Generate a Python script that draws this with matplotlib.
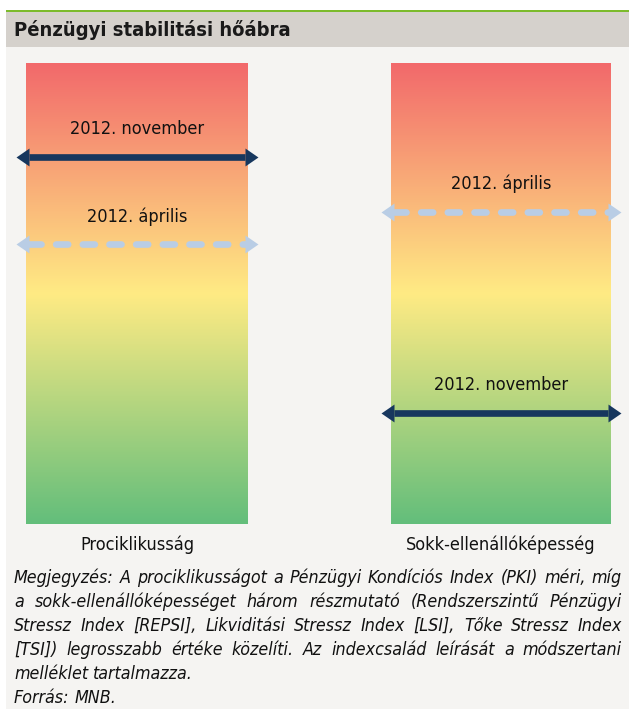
import numpy as np
import matplotlib
matplotlib.use('Agg')
import matplotlib.pyplot as plt
from matplotlib.colors import LinearSegmentedColormap
from matplotlib.patches import Rectangle

# Tahoma-like look: condensed DejaVu if it is there
plt.rcParams['font.family'] = ['DejaVu Sans Condensed', 'DejaVu Sans']
plt.rcParams['font.stretch'] = 'condensed'

# data (0 = bottom of the bar, 100 = top)
bars = ['Prociklikusság', 'Sokk-ellenállóképesség']
april = [60.7, 67.7]
november = [79.6, 24.1]
series_labels = ['2012. április', '2012. november']

title = 'Pénzügyi stabilitási hőábra'
note_lines = [
    'Megjegyzés: A prociklikusságot a Pénzügyi Kondíciós Index (PKI) méri, míg',
    'a sokk-ellenállóképességet három részmutató (Rendszerszintű Pénzügyi',
    'Stressz Index [REPSI], Likviditási Stressz Index [LSI], Tőke Stressz Index',
    '[TSI]) legrosszabb értéke közelíti. Az indexcsalád leírását a módszertani',
    'melléklet tartalmazza.',
    'Forrás: MNB.',
]

W, H = 629, 709
fig = plt.figure(figsize=(W / 100, H / 100), dpi=100)

# background axes in pixel units
bg = fig.add_axes([0, 0, 1, 1])
bg.set_xlim(0, W)
bg.set_ylim(H, 0)
bg.axis('off')
bg.add_patch(Rectangle((6, 47), W - 6, H - 47, color='#f5f4f2', lw=0))
bg.add_patch(Rectangle((6, 12), W - 6, 35, color='#d5d1cc', lw=0))
bg.add_patch(Rectangle((6, 9.5), W - 6, 2.5, color='#7cbb2c', lw=0))
bg.text(14, 30, title, fontsize=14.5, fontweight='bold', va='center', color='#1a1a1a')

cmap = LinearSegmentedColormap.from_list('heat', ['#63BE7B', '#FFEB84', '#F2696B'])
grad = np.linspace(0, 1, 256).reshape(-1, 1)

left_head = [(-1, 0), (0, 0.69), (0, -0.69), (-1, 0)]
right_head = [(1, 0), (0, 0.69), (0, -0.69), (1, 0)]

bar_x = [26, 391]
bar_w = [222, 220]
top, bottom = 63, 524

for i, name in enumerate(bars):
    ax = fig.add_axes([bar_x[i] / W, (H - bottom) / H, bar_w[i] / W, (bottom - top) / H])
    ax.imshow(grad, cmap=cmap, extent=[0, 1, 0, 100], origin='lower', aspect='auto')
    ax.set_xlim(0, 1)
    ax.set_ylim(0, 100)
    ax.axis('off')
    tr = ax.get_yaxis_transform()

    for val, lab, col, dashed in [(april[i], series_labels[0], '#b9cde5', True),
                                  (november[i], series_labels[1], '#17375e', False)]:
        if dashed:
            ax.plot([0.012, 0.988], [val, val], transform=tr, color=col, lw=4.8,
                    ls=(0, (1.8, 2.2)), dash_capstyle='round', clip_on=False)
        else:
            ax.plot([0.012, 0.988], [val, val], transform=tr, color=col, lw=4.8,
                    solid_capstyle='butt', clip_on=False)
        ax.plot([0.012], [val], transform=tr, marker=left_head, ms=18.7, color=col,
                mew=0, clip_on=False)
        ax.plot([0.988], [val], transform=tr, marker=right_head, ms=18.7, color=col,
                mew=0, clip_on=False)
        ax.annotate(lab, xy=(0.5, val), xycoords=tr, xytext=(0, 20),
                    textcoords='offset points', ha='center', va='center',
                    fontsize=13, color='#111111')

    bg.text(bar_x[i] + bar_w[i] / 2, 545, name, ha='center', va='center',
            fontsize=13, color='#111111')

# justified note text, font size shrunk until the longest line fits
renderer = fig.canvas.get_renderer()
x_left, x_right = 14, 622
note_size = 13
while True:
    t = bg.text(0, 0, note_lines[0], fontsize=note_size, style='italic')
    w0 = t.get_window_extent(renderer).width
    t.remove()
    if w0 <= (x_right - x_left) - 8 or note_size < 8:
        break
    note_size -= 0.25

a = bg.text(0, 0, 'x x', fontsize=note_size, style='italic')
b = bg.text(0, 0, 'xx', fontsize=note_size, style='italic')
space = a.get_window_extent(renderer).width - b.get_window_extent(renderer).width
a.remove()
b.remove()
for i, line in enumerate(note_lines):
    y = 578 + i * 24
    words = line.split(' ')
    texts = [bg.text(0, y, w, fontsize=note_size, style='italic', va='center',
                     color='#111111') for w in words]
    widths = [t.get_window_extent(renderer).width for t in texts]
    gap = space
    if i < 4:
        gap = (x_right - x_left - sum(widths)) / (len(words) - 1)
    x = x_left
    for t, w in zip(texts, widths):
        t.set_x(x)
        x += w + gap

fig.savefig('out.png', dpi=100)
